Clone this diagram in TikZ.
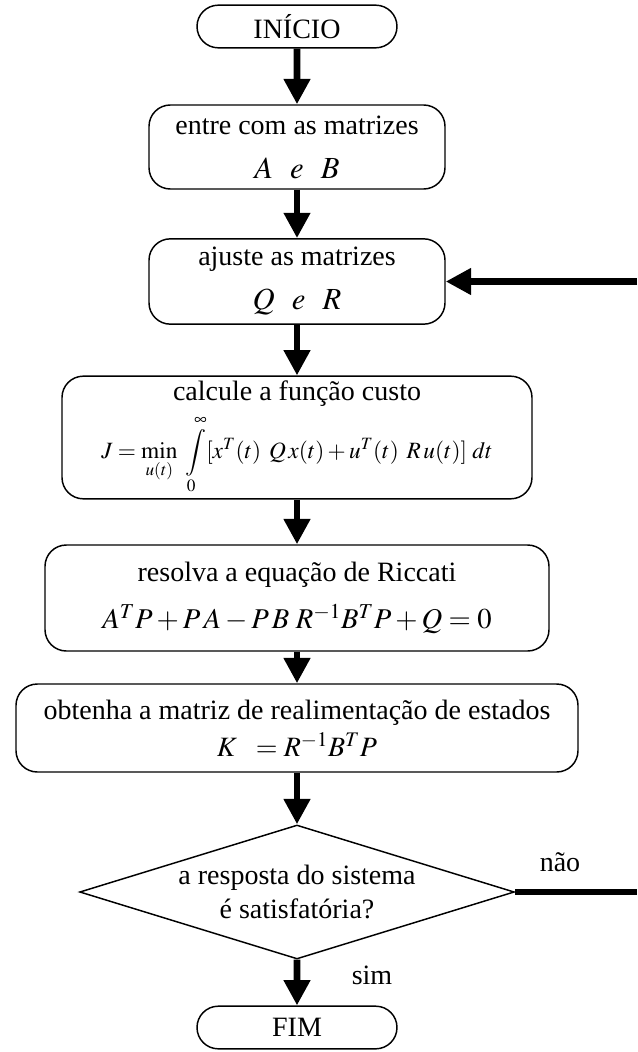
\documentclass[tikz,border=0pt]{standalone}
\usepackage{mathptmx}
\usepackage{fontspec}
\setmainfont{Liberation Serif}
\usetikzlibrary{arrows.meta,shapes.geometric,shapes.misc}
\newcommand{\fmt}[1]{\fontsize{#1}{#1}\selectfont}

\begin{document}
\begin{tikzpicture}[x=.75pt,y=-.75pt,font=\fontsize{21}{25}\selectfont,
  caixa/.style={draw,line width=1.1pt,rounded corners=16pt,align=center,inner sep=0pt},
  term/.style={draw,line width=1.1pt,rounded rectangle,minimum width=150pt,minimum height=32pt,inner sep=0pt},
  seta/.style={line width=5.2pt,-{Triangle[width=19pt,length=19pt]}},
  linha/.style={line width=5.2pt}]
\useasboundingbox[fill=white] (0,0) rectangle (637,1052);
\node[term] (ini) at (297,26.5) {INÍCIO};
\node[caixa,minimum width=222pt,minimum height=63pt] (entre) at (297,147) {entre com as matrizes\\[8pt]{\fmt{23}$A\;\;\,e\;\;\,B$}};
\node[caixa,minimum width=222pt,minimum height=64pt] (ajuste) at (297,281.5) {ajuste as matrizes\\[8pt]{\fmt{23}$Q\;\;\,e\;\;\,R$}};
\node[caixa,minimum width=352.5pt,minimum height=92pt] (custo) at (297,437.5) {calcule a função custo\\[6pt]{\fmt{17.5}$\displaystyle J=\min_{u(t)}\;\int\limits_0^\infty[x^T(t)\;\,Q\,x(t)+u^T(t)\;\,R\,u(t)]\;dt$}};
\node[caixa,minimum width=378pt,minimum height=79.5pt] (riccati) at (297,598) {resolva a equação de Riccati\\[10pt]{\fmt{21.5}$A^TP+P\,A-P\,B\;R^{-1}B^TP+Q=0$}};
\node[caixa,minimum width=421.5pt,minimum height=66pt] (ganho) at (297,728) {obtenha a matriz de realimentação de estados\\[3pt]{\fmt{21}$K\;\;=R^{-1}B^TP$}};
\node[draw,line width=1.1pt,diamond,aspect=3.24,minimum width=326pt,minimum height=100.5pt,inner sep=0pt,align=center] (dec) at (297,892) {a resposta do sistema\\[1pt]é satisfatória?};
\node[term] (fim) at (297,1027.5) {FIM};
\draw[seta] (ini) -- (entre);
\draw[seta] (entre) -- (ajuste);
\draw[seta] (ajuste) -- (custo);
\draw[seta] (custo) -- (riccati);
\draw[seta] (riccati) -- (ganho);
\draw[seta] (ganho) -- (dec);
\draw[seta] (dec) -- (fim);
\coordinate (nao) at (637,892);
\coordinate (volta) at (637,281.5);
\draw[linha] (dec.east) -- (nao);
\draw[seta] (volta) -- (ajuste.east);
\node (lnao) at (560,862) {não};
\node (lsim) at (372,975) {sim};
\end{tikzpicture}
\end{document}
